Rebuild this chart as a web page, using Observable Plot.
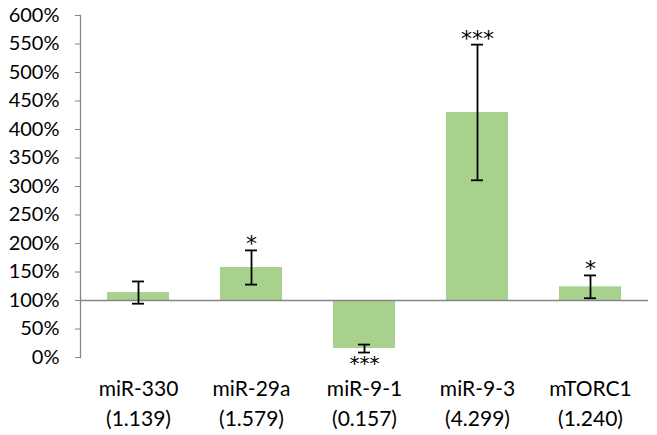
<!DOCTYPE html>
<html><head><meta charset="utf-8">
<script src="https://cdn.jsdelivr.net/npm/d3@7"></script>
<script src="https://cdn.jsdelivr.net/npm/@observablehq/plot@0.6"></script>
<style>body{margin:0;background:#fff;} svg{display:block;}</style>
</head><body><div id="chart"></div>
<script>
const genes = ["miR-330", "miR-29a", "miR-9-1", "miR-9-3", "mTORC1"];
const values = [1.139, 1.579, 0.157, 4.299, 1.240];
const errors = [0.195, 0.30, 0.07, 1.19, 0.20];
const stars = ["", "*", "***", "***", "*"];
const yTicks = [0, 0.5, 1, 1.5, 2, 2.5, 3, 3.5, 4, 4.5, 5, 5.5, 6];

const data = genes.map((g, i) => ({
  gene: g, value: values[i], err: errors[i], star: stars[i],
  lo: values[i] - errors[i], hi: values[i] + errors[i]
}));
const labelOf = Object.fromEntries(genes.map((g, i) => [g, g + "\n(" + values[i].toFixed(3) + ")"]));

const font = "Lato, 'Open Sans', sans-serif";
const chart = Plot.plot({
  width: 657, height: 435,
  marginLeft: 80, marginRight: 9, marginTop: 15, marginBottom: 78,
  style: {fontFamily: font, fontSize: "20px", color: "#000", background: "#fff"},
  x: {domain: genes, paddingInner: 0.45, paddingOuter: 0.225, label: null},
  y: {domain: [0, 6], label: null},
  marks: [
    Plot.barY(data, {x: "gene", y1: 1, y2: "value", fill: "#a9d18e"}),
    Plot.ruleY([1], {stroke: "#868686", strokeWidth: 1.3}),
    Plot.frame({anchor: "left", stroke: "#868686", strokeWidth: 1.3}),
    Plot.axisY({ticks: yTicks, tickFormat: d => Math.round(d * 100) + "%", tickSize: 5, stroke: "#868686", tickPadding: 16, fontSize: 20}),
    Plot.axisX({tickSize: 0, tickPadding: 18, tickFormat: g => labelOf[g], fontSize: 21, lineHeight: 1.4}),
    Plot.ruleX(data, {x: "gene", y1: "lo", y2: "hi", stroke: "#000", strokeWidth: 1.8}),
    Plot.tickY(data, {x: "gene", y: "lo", stroke: "#000", strokeWidth: 1.8, insetLeft: 25, insetRight: 25}),
    Plot.tickY(data, {x: "gene", y: "hi", stroke: "#000", strokeWidth: 1.8, insetLeft: 25, insetRight: 25}),
    Plot.text(data.filter(d => d.value >= 1), {x: "gene", y: "hi", text: "star", dy: -6, fontSize: 22, fill: "#000", fontFamily: "'DejaVu Sans', sans-serif"}),
    Plot.text(data.filter(d => d.value < 1), {x: "gene", y: "lo", text: "star", dy: 11, fontSize: 20, fill: "#000", fontFamily: "'DejaVu Sans', sans-serif"})
  ]
});
document.getElementById("chart").appendChild(chart);
</script></body></html>
